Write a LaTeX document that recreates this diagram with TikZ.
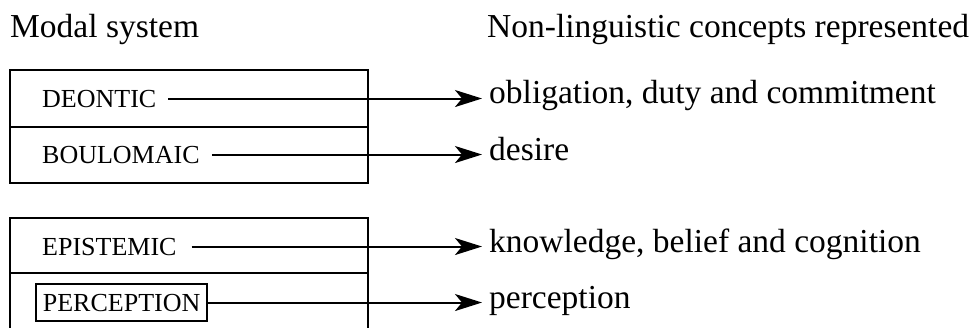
\documentclass[tikz,border=0pt]{standalone}
\usepackage{fontspec}
\setmainfont{Liberation Serif}
\usetikzlibrary{arrows.meta}

\begin{document}
\begin{tikzpicture}[x=1pt,y=-1pt,
  txt/.style={inner sep=0pt,anchor=base west,font=\fontsize{33.5}{38}\selectfont},
  capslabel/.style={inner sep=0pt,anchor=base west,font=\fontsize{26}{30}\selectfont},
  frame/.style={line width=2pt},
  conn/.style={line width=2pt,-{Stealth[length=27pt,width=17pt,inset=7pt]},shorten >=7pt}]
\useasboundingbox (0,0) rectangle (971,327);

% column headings
\node[txt] (hl) at (10,37) {Modal system};
\node[txt] (hr) at (487,37) {Non-linguistic concepts represented};

% upper group of modal systems
\draw[frame] (10,70) rectangle (368,183);
\draw[frame] (10,127) -- (368,127);
\node[capslabel] (deo) at (42,107) {DEONTIC};
\node[capslabel] (bou) at (42,163) {BOULOMAIC};

% lower group, open at the bottom
\draw[frame] (10,328) -- (10,218) -- (368,218) -- (368,328);
\draw[frame] (10,273) -- (368,273);
\node[capslabel] (epi) at (42,255) {EPISTEMIC};
\node[capslabel,draw,line width=1.8pt,inner xsep=7pt,inner ysep=9.5pt] (per) at (35,311) {PERCEPTION};

% concepts
\node[txt] (obl) at (489,103) {obligation, duty and commitment};
\node[txt] (des) at (489,160) {desire};
\node[txt] (kno) at (489,252) {knowledge, belief and cognition};
\node[txt] (perc) at (489,308) {perception};

% connectors
\draw[conn,shorten <=12pt] (deo.east) -- (deo.east -| obl.west);
\draw[conn,shorten <=12pt] (bou.east) -- (bou.east -| des.west);
\draw[conn,shorten <=15pt] (epi.east) -- (epi.east -| kno.west);
\draw[conn] (per.east) -- (per.east -| perc.west);
\end{tikzpicture}
\end{document}
